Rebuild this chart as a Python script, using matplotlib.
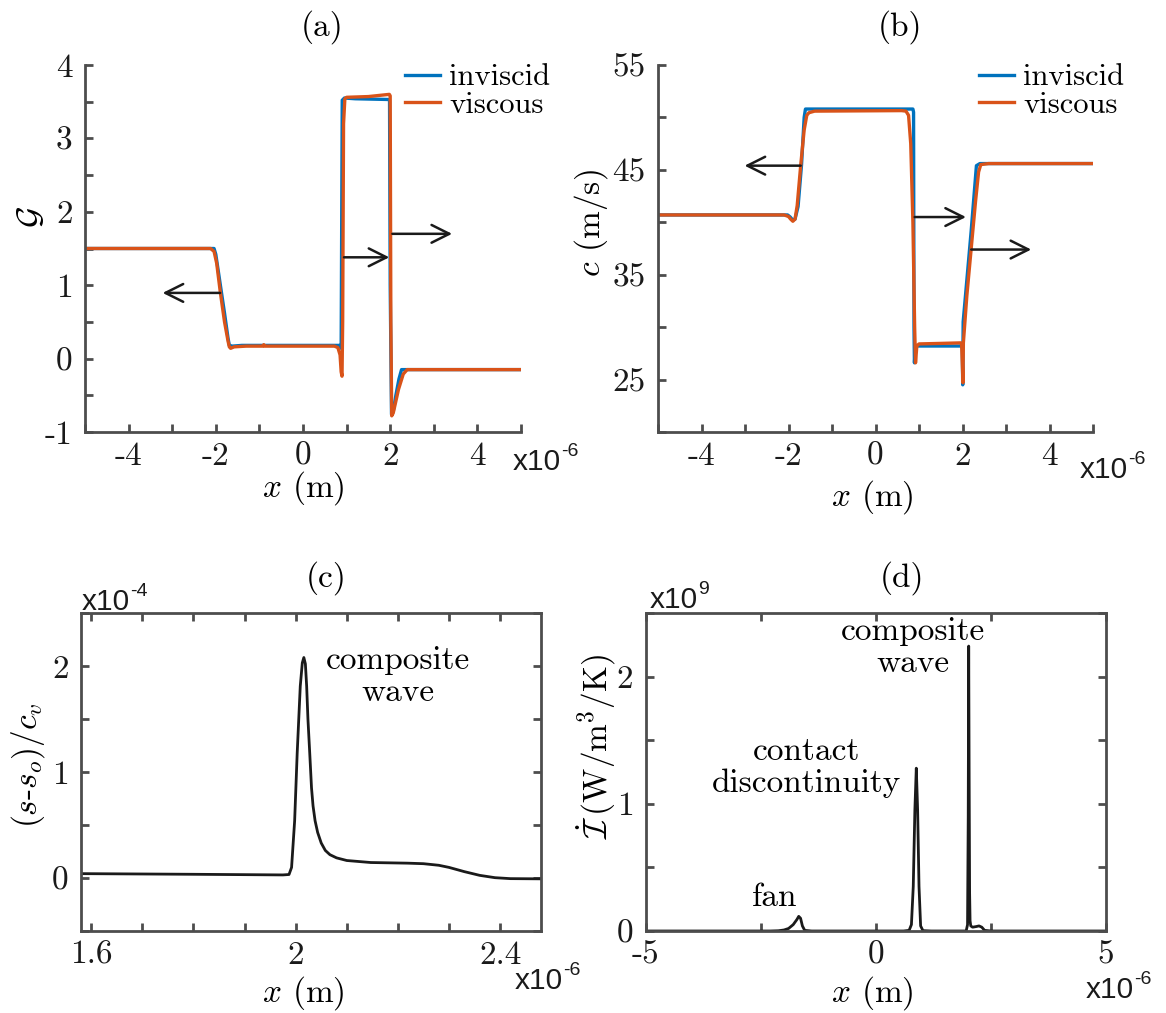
import matplotlib
matplotlib.use('Agg')
import matplotlib.pyplot as plt

plt.rcParams.update({'font.family': 'serif', 'font.serif': ['cmr10'],
                     'mathtext.fontset': 'cm', 'axes.unicode_minus': False,
                     'font.size': 24})

# ---- data (x in 1e-6 m) ----
# (a) G
xa_inv = [-5, -2.04, -2.0, -1.95, -1.80, -1.72, -1.69, -1.62, -1.4, 0.86, 0.875, 0.885, 0.90, 0.95, 1.2, 1.97, 1.985,
          2.0, 2.03, 2.07, 2.13, 2.2, 2.26, 2.5, 5]
ya_inv = [1.5, 1.5, 1.42, 1.22, 0.62, 0.28, 0.18, 0.17, 0.18, 0.18, 0.14, 1.5, 3.52, 3.55, 3.54, 3.53, 3.52,
          1.0, -0.76, -0.72, -0.50, -0.28, -0.15, -0.15, -0.15]
xa_vis = [-5, -2.12, -2.04, -1.98, -1.90, -1.80, -1.72, -1.69, -1.66, -1.58, -1.3, -0.92, -0.9, -0.88, 0.72, 0.80,
          0.85, 0.875, 0.895, 0.91, 0.93, 0.96, 1.0, 1.5, 1.98, 2.0, 2.015, 2.035, 2.07, 2.13, 2.19, 2.30, 2.39, 2.45, 5]
ya_vis = [1.5, 1.5, 1.46, 1.30, 0.92, 0.50, 0.24, 0.16, 0.14, 0.16, 0.17, 0.17, 0.19, 0.17, 0.17, 0.15,
          0.05, -0.18, -0.24, 0.5, 3.2, 3.54, 3.56, 3.57, 3.6, 3.58, 0.5, -0.78, -0.74, -0.58, -0.42, -0.21, -0.15, -0.15, -0.15]

# (b) c (m/s)
xb_inv = [-5, -2.02, -1.96, -1.90, -1.85, -1.78, -1.70, -1.64, -1.61, -1.5, 0.86, 0.875, 0.885, 0.895, 0.92, 1.5,
          1.97, 1.995, 2.005, 2.015, 2.1, 2.2, 2.32, 2.4, 5]
yb_inv = [40.7, 40.7, 40.5, 40.2, 40.3, 41.5, 45.5, 50.0, 50.8, 50.8, 50.8, 50.5, 30, 26.6, 28.2, 28.2,
          28.2, 28.0, 24.5, 30.5, 34.5, 39.2, 45.4, 45.6, 45.6]
xb_vis = [-5, -2.1, -2.0, -1.95, -1.90, -1.85, -1.80, -1.72, -1.64, -1.58, -1.53, -1.4, 0.6, 0.70, 0.76, 0.81,
          0.86, 0.90, 0.92, 0.95, 1.0, 1.5, 1.96, 1.98, 2.0, 2.01, 2.02, 2.1, 2.2, 2.3, 2.37, 2.42, 2.6, 5]
yb_vis = [40.7, 40.7, 40.55, 40.3, 40.1, 40.3, 41.6, 45.4, 48.8, 50.2, 50.45, 50.6, 50.65, 50.6, 50.2, 47.5,
          40, 30, 26.6, 28.2, 28.4, 28.45, 28.5, 28.4, 26, 24.7, 28.5, 33.0, 37.5, 42.0, 44.8, 45.5, 45.6, 45.6]

# (c) (s-s_o)/c_v  (x 1e-4)
xc = [1.582, 1.8, 1.975, 1.987, 1.992, 1.998, 2.003, 2.009, 2.013, 2.016, 2.019, 2.0215, 2.024, 2.0275, 2.031,
      2.034, 2.038, 2.043, 2.05, 2.058, 2.067, 2.08, 2.10, 2.147, 2.219, 2.25, 2.28, 2.30, 2.33, 2.36, 2.39,
      2.42, 2.482]
yc = [0.041, 0.035, 0.029, 0.033, 0.1, 0.54, 1.18, 1.81, 2.03, 2.08, 2.02, 1.81, 1.5, 1.18, 0.85,
      0.68, 0.54, 0.43, 0.33, 0.26, 0.22, 0.19, 0.165, 0.146, 0.14, 0.135, 0.12, 0.10, 0.06, 0.025, 0.003,
      -0.006, -0.008]

# (d) entropy production (x 1e9)
xd = [-5, -2.3, -2.12, -2.0, -1.9, -1.8, -1.72, -1.68, -1.64, -1.60, -1.55, -1.4, 0.6, 0.72, 0.77, 0.81, 0.845,
      0.876, 0.905, 0.935, 0.97, 1.02, 1.2, 1.96, 1.99, 2.005, 2.015, 2.025, 2.035, 2.045, 2.06, 2.10, 2.18,
      2.24, 2.30, 2.36, 2.5, 5]
yd = [0, 0, 0.002, 0.008, 0.02, 0.05, 0.09, 0.115, 0.10, 0.04, 0.005, 0, 0, 0.005, 0.05, 0.35, 0.95,
      1.28, 0.95, 0.35, 0.04, 0.003, 0, 0, 0.05, 0.9, 2.24, 1.2, 0.3, 0.08, 0.04, 0.03, 0.035,
      0.04, 0.03, 0.005, 0, 0]

# arrows: (start, tip)
arrows_a = [((-1.90, 0.895), (-3.22, 0.895)), ((0.94, 1.38), (1.98, 1.38)), ((2.05, 1.70), (3.42, 1.70))]
arrows_b = [((-1.72, 45.4), (-3.01, 45.4)), ((0.90, 40.5), (2.08, 40.5)), ((2.20, 37.4), (3.58, 37.4))]

blue = (0, 0.447, 0.741)
orange = (0.85, 0.325, 0.098)
W, H = 1166, 1013

fig = plt.figure(figsize=(W / 100, H / 100), dpi=100)


def px_axes(l, t, r, b):
    return fig.add_axes([l / W, 1 - b / H, (r - l) / W, (b - t) / H])


def style(ax, box):
    for s in ax.spines.values():
        s.set_color('0.3')
        s.set_linewidth(2)
    if not box:
        ax.spines['top'].set_visible(False)
        ax.spines['right'].set_visible(False)
    ax.tick_params(direction='in', length=6, width=2, color='0.3', labelcolor='0.1',
                   top=box, right=box)
    ax.tick_params(axis='y', pad=9)
    ax.tick_params(axis='x', pad=7)


def ftext(x, y, s, **kw):
    return fig.text(x / W, 1 - y / H, s, **kw)


def exponent(x, y, base, sup):
    t = ftext(x, y, base, family='Liberation Sans', fontsize=21.5, va='center', ha='left', color='0.1')
    plt.annotate(sup, xy=(1.0, 0.88), xycoords=t, family='Liberation Sans', fontsize=14,
                 va='center', ha='left', color='0.1', annotation_clip=False)


def label_pos(ax, xl, yl):
    ax.xaxis.set_label_coords(*xl)
    ax.xaxis.label.set_va('center')
    ax.yaxis.set_label_coords(*yl)
    ax.yaxis.label.set_va('center')


def draw_arrows(ax, arrows):
    for start, tip in arrows:
        ax.annotate('', xy=tip, xytext=start,
                    arrowprops=dict(arrowstyle='->', lw=1.8, color='0.1', mutation_scale=32,
                                    shrinkA=0, shrinkB=0))


def legend(ax, x):
    ax.legend(loc='upper left', bbox_to_anchor=(x / W, 1 - 64 / H), bbox_transform=fig.transFigure,
              frameon=False, fontsize=22, handlelength=1.15, handletextpad=0.3, borderpad=0,
              borderaxespad=0, labelspacing=0.0)


# (a)
axa = px_axes(85, 65, 521, 432)
style(axa, False)
axa.plot(xa_inv, ya_inv, color=blue, lw=2.4, label='inviscid')
axa.plot(xa_vis, ya_vis, color=orange, lw=2.4, label='viscous')
axa.set_xlim(-5, 5)
axa.set_ylim(-1, 4)
axa.set_xticks(range(-5, 6), ['' if v % 2 else str(v) for v in range(-5, 6)])
yt = [v / 2 for v in range(-2, 9)]
axa.set_yticks(yt, [str(int(v)) if v == int(v) else '' for v in yt])
axa.set_xlabel(r'$x$ (m)')
axa.set_ylabel(r'$\mathcal{G}$')
label_pos(axa, (0.5, -0.153), (-0.126, 0.586))
draw_arrows(axa, arrows_a)
legend(axa, 405)
ftext(322, 27, '(a)', ha='center', va='center')
exponent(513, 462, 'x10', '-6')

# (b)
axb = px_axes(658, 65, 1093, 432)
style(axb, False)
axb.plot(xb_inv, yb_inv, color=blue, lw=2.4, label='inviscid')
axb.plot(xb_vis, yb_vis, color=orange, lw=2.4, label='viscous')
axb.set_xlim(-5, 5)
axb.set_ylim(20, 55)
axb.set_xticks(range(-5, 6), ['' if v % 2 else str(v) for v in range(-5, 6)])
yt = list(range(20, 56, 5))
axb.set_yticks(yt, [str(v) if v % 10 == 5 else '' for v in yt])
axb.set_xlabel(r'$x$ (m)')
axb.set_ylabel(r'$c$ (m/s)')
label_pos(axb, (0.493, -0.176), (-0.154, 0.57))
draw_arrows(axb, arrows_b)
legend(axb, 979)
ftext(900, 27, '(b)', ha='center', va='center')
exponent(1080, 470, 'x10', '-6')

# (c)
axc = px_axes(81, 613, 541, 931)
style(axc, True)
axc.plot(xc, yc, color='0.1', lw=2.0)
axc.set_xlim(1.58, 2.48)
axc.set_ylim(-0.5, 2.5)
xt = [1.6 + 0.1 * i for i in range(9)]
axc.set_xticks(xt, ['1.6', '', '', '', '2', '', '', '', '2.4'])
yt = [v / 2 for v in range(-1, 6)]
axc.set_yticks(yt, [str(int(v)) if v == int(v) else '' for v in yt])
axc.set_xlabel(r'$x$ (m)')
axc.set_ylabel(r'$(s$-$s_o)/c_v$')
label_pos(axc, (0.484, -0.194), (-0.116, 0.522))
axc.text(2.2, 1.9, 'composite\nwave', ha='center', va='center', linespacing=1.1)
ftext(326, 578, '(c)', ha='center', va='center')
exponent(82, 602, 'x10', '-4')
exponent(515, 981, 'x10', '-6')

# (d)
axd = px_axes(646, 613, 1106, 931)
style(axd, True)
axd.plot(xd, yd, color='0.1', lw=2.0)
axd.set_xlim(-5, 5)
axd.set_ylim(0, 2.5)
axd.set_xticks([-5, -2.5, 0, 2.5, 5], ['-5', '', '0', '', '5'])
yt = [v / 2 for v in range(0, 6)]
axd.set_yticks(yt, [str(int(v)) if v == int(v) else '' for v in yt])
axd.set_xlabel(r'$x$ (m)')
axd.set_ylabel(r'$\dot{\mathcal{I}}\,$(W/m$^3$/K)')
label_pos(axd, (0.493, -0.194), (-0.107, 0.58))
axd.text(0.8, 2.23, 'composite\nwave', ha='center', va='center', linespacing=1.1)
axd.text(-1.52, 1.285, 'contact\ndiscontinuity', ha='center', va='center', linespacing=1.1)
axd.text(-2.2, 0.26, 'fan', ha='center', va='center')
ftext(902, 578, '(d)', ha='center', va='center')
exponent(650, 600, 'x10', '9')
exponent(1086, 990, 'x10', '-6')

fig.savefig('out.png', dpi=100)
